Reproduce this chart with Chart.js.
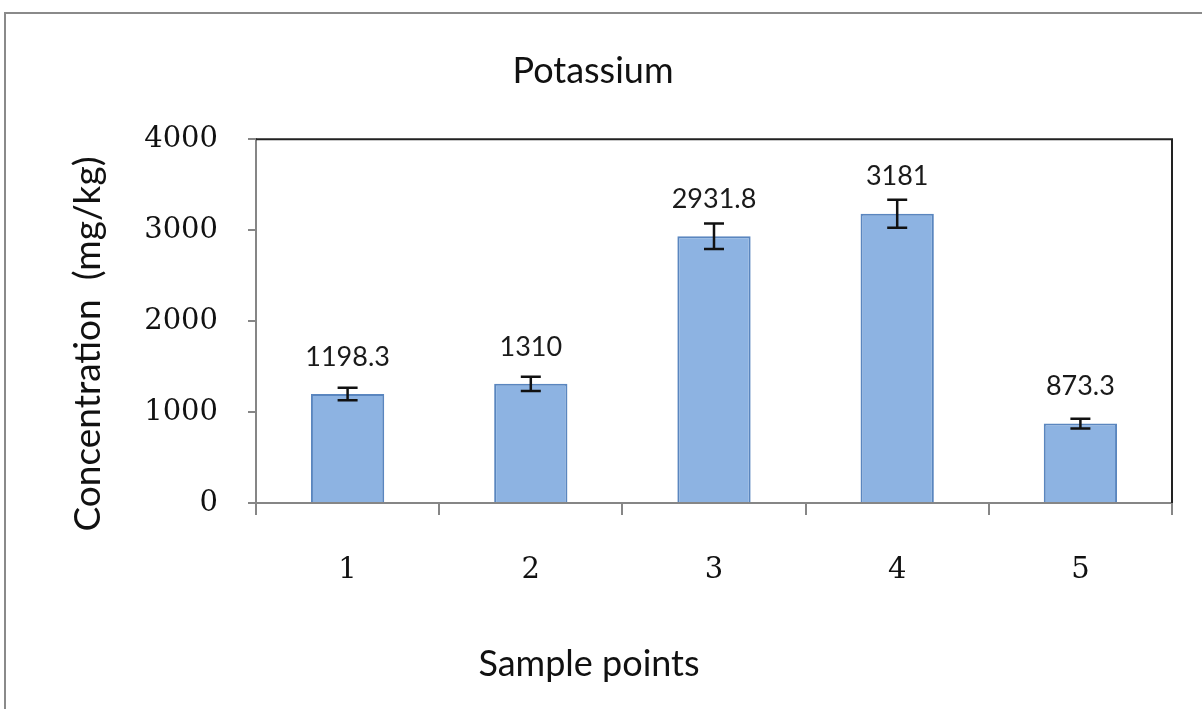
<!DOCTYPE html>
<html>
<head>
<meta charset="utf-8">
<script src="https://cdn.jsdelivr.net/npm/chart.js@4/dist/chart.umd.min.js"></script>
<style>
  html, body { margin: 0; padding: 0; background: #fff; }
  #wrap { position: relative; width: 1202px; height: 709px; overflow: hidden; }
  #frame { position: absolute; left: 4px; top: 12px; width: 1300px; height: 800px; border: 2px solid #8a8a8a; pointer-events: none; }
</style>
</head>
<body>
<div id="wrap">
  <div id="frame"></div>
  <canvas id="chart" width="1202" height="709"></canvas>
</div>
<script>
// --- data ---
const samplePoints = ['1', '2', '3', '4', '5'];
const potassium = [1198.3, 1310, 2931.8, 3181, 873.3];
const errors = [68, 78, 140, 154, 53];
const yTicks = [0, 1000, 2000, 3000, 4000];
const yTickLabels = ['0', '1000', '2000', '3000', '4000'];
const xTitle = 'Sample points';
const yTitle = 'Concentration  (mg/kg)';

const sansFont = 'Lato, "Open Sans", sans-serif';
const serifFont = '"DejaVu Serif", "Liberation Serif", serif';
const axisGrey = '#868686';

// error bars, value labels, axis titles (placed off-centre like the original)
const extrasPlugin = {
    id: 'extras',
    afterDatasetsDraw(chart) {
        let ctx = chart.ctx;
        let y = chart.scales.y;
        let meta = chart.getDatasetMeta(0);
        ctx.save();
        ctx.strokeStyle = '#111';
        ctx.lineWidth = 2.5;
        meta.data.forEach((bar, i) => {
            let top = y.getPixelForValue(potassium[i] + errors[i]);
            let bot = y.getPixelForValue(potassium[i] - errors[i]);
            ctx.beginPath();
            ctx.moveTo(bar.x, top); ctx.lineTo(bar.x, bot);
            ctx.moveTo(bar.x - 10, top); ctx.lineTo(bar.x + 10, top);
            ctx.moveTo(bar.x - 10, bot); ctx.lineTo(bar.x + 10, bot);
            ctx.stroke();
        });
        ctx.fillStyle = '#1a1a1a';
        ctx.font = '27px ' + sansFont;
        ctx.textAlign = 'center';
        ctx.textBaseline = 'middle';
        meta.data.forEach((bar, i) => {
            ctx.fillText(String(potassium[i]), bar.x, bar.y - 37);
        });

        // dark top / right edge of the plot area
        let a = chart.chartArea;
        ctx.strokeStyle = '#222';
        ctx.lineWidth = 2;
        ctx.beginPath();
        ctx.moveTo(a.left, a.top); ctx.lineTo(a.right, a.top); ctx.lineTo(a.right, a.bottom);
        ctx.stroke();

        // axis titles
        ctx.fillStyle = '#111';
        ctx.font = '36px ' + sansFont;
        ctx.fillText(xTitle, 589, 664);
        ctx.font = '37px ' + sansFont;
        ctx.translate(88, 344);
        ctx.rotate(-Math.PI / 2);
        ctx.fillText(yTitle, 0, 0);
        ctx.restore();
    }
};

new Chart(document.getElementById('chart'), {
    type: 'bar',
    data: {
        labels: samplePoints,
        datasets: [{
            data: potassium,
            backgroundColor: '#8DB3E2',
            borderColor: '#5A86BF',
            borderWidth: 2,
            barPercentage: 0.4,
            categoryPercentage: 1.0
        }]
    },
    options: {
        responsive: false,
        animation: false,
        layout: { padding: { left: 14, right: 30, top: 0, bottom: 0 } },
        plugins: {
            legend: { display: false },
            tooltip: { enabled: false },
            title: {
                display: true,
                text: 'Potassium',
                color: '#111',
                font: { family: sansFont, size: 36, weight: 'normal' },
                padding: { top: 50, bottom: 46 }
            }
        },
        scales: {
            x: {
                grid: { drawOnChartArea: false, drawTicks: true, tickLength: 12, offset: true, color: axisGrey, lineWidth: 2 },
                border: { color: axisGrey, width: 2 },
                ticks: { color: '#111', padding: 38, font: { family: serifFont, size: 29 } },
                afterFit(scale) { scale.height = 709 - 503; }
            },
            y: {
                min: 0,
                max: 4000,
                afterBuildTicks(scale) { scale.ticks = yTicks.map(v => ({ value: v })); },
                grid: { drawOnChartArea: false, drawTicks: true, tickLength: 8, color: axisGrey, lineWidth: 2 },
                border: { color: axisGrey, width: 2 },
                ticks: {
                    color: '#111',
                    padding: 30,
                    font: { family: serifFont, size: 29 },
                    callback: (v, i) => yTickLabels[i]
                },
                afterFit(scale) { scale.width = 256 - 14; }
            }
        }
    },
    plugins: [extrasPlugin]
});
</script>
</body>
</html>
